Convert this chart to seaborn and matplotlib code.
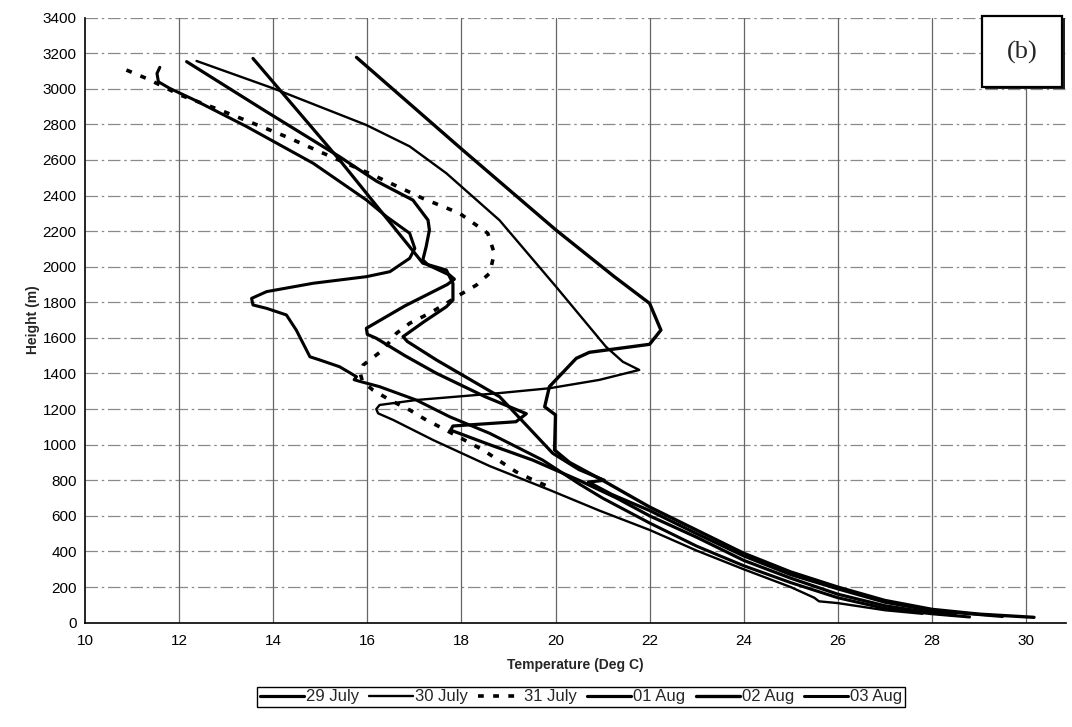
import matplotlib
matplotlib.use("Agg")
import matplotlib.pyplot as plt
import seaborn as sns
import pandas as pd
from matplotlib.patches import Rectangle

sns.set_theme(style="white")
plt.rcParams['font.family'] = ['Liberation Sans', 'DejaVu Sans']

series_names = ["29 July", "30 July", "31 July", "01 Aug", "02 Aug", "03 Aug"]

t_29jul = [12.16, 13.8, 15.41, 16.2, 16.97, 17.29, 17.32, 17.25, 17.18, 17.29, 17.75, 17.85, 17.7, 16.8,
           15.98, 16.0, 16.19, 16.8, 17.47, 18.5, 19.38, 19.16, 17.82, 17.77, 18.6, 19.52, 20.5, 21.3,
           22.0, 23.0, 24.0, 25.0, 26.0, 27.0, 28.0, 28.5]
h_29jul = [3152, 2880, 2618, 2480, 2374, 2262, 2206, 2112, 2038, 2010, 1953, 1930, 1900, 1780,
           1654, 1620, 1598, 1500, 1401, 1270, 1174, 1129, 1105, 1082, 1000, 913, 800, 700,
           600, 480, 350, 250, 160, 95, 55, 42]

t_30jul = [12.37, 14.0, 15.98, 16.9, 17.68, 18.81, 20.01, 21.07, 21.43, 21.78, 20.93, 19.87, 18.81,
           17.04, 16.26, 16.19, 16.23, 16.55, 17.4, 18.6, 19.87, 20.93, 22.0, 23.0, 24.0, 25.0,
           25.5, 25.6, 26.0, 27.0, 27.8]
h_30jul = [3156, 3002, 2796, 2676, 2525, 2261, 1888, 1551, 1466, 1420, 1364, 1317, 1290,
           1251, 1223, 1200, 1176, 1139, 1026, 880, 746, 630, 521, 405, 300, 200,
           140, 120, 110, 70, 50]

t_31jul = [10.88, 11.34, 12.02, 12.87, 13.57, 14.28, 14.99, 16.12, 17.18, 17.96, 18.56, 18.7, 18.6,
           18.32, 17.96, 17.68, 17.32, 16.9, 16.62, 16.33, 15.91, 15.85, 15.9, 16.12, 16.48, 16.9,
           17.25, 17.6, 18.46, 19.16, 19.52, 19.8]
h_31jul = [3105, 3054, 2965, 2880, 2806, 2730, 2646, 2515, 2384, 2300, 2188, 2075, 1963,
           1897, 1841, 1794, 1738, 1682, 1626, 1532, 1447, 1400, 1354, 1307, 1251, 1195,
           1139, 1092, 970, 848, 802, 770]

t_01aug = [13.57, 15.41, 17.18, 17.68, 17.82, 17.82, 17.68, 17.2, 16.76, 16.85, 17.47, 18.81, 19.94,
           20.5, 21.04, 20.7, 21.2, 22.0, 23.0, 24.0, 25.0, 26.0, 27.0, 28.0, 29.5]
h_01aug = [3170, 2600, 2020, 1981, 1906, 1813, 1775, 1690, 1607, 1580, 1476, 1270, 952,
           860, 800, 790, 720, 630, 500, 375, 270, 190, 115, 68, 35]

t_02aug = [15.77, 18.03, 20.01, 21.25, 22.0, 22.24, 22.0, 20.72, 20.44, 19.87, 19.77, 20.0, 19.98,
           20.3, 21.0, 22.0, 23.0, 24.0, 25.0, 26.0, 27.0, 28.0, 29.0, 30.17]
h_02aug = [3176, 2655, 2206, 1944, 1794, 1644, 1564, 1519, 1485, 1326, 1213, 1167, 970,
           900, 800, 650, 520, 390, 285, 200, 125, 75, 48, 30]

t_03aug = [11.59, 11.53, 11.56, 11.8, 12.3, 13.43, 14.85, 15.98, 16.41, 16.9, 17.01, 16.9, 16.48,
           15.98, 14.85, 13.86, 13.54, 13.57, 13.86, 14.28, 14.49, 14.67, 14.78, 14.99, 15.41,
           15.77, 15.72, 15.85, 16.26, 17.04, 17.75, 18.6, 19.73, 20.5, 21.0, 22.0, 23.0, 24.0,
           25.0, 26.0, 27.0, 28.0, 28.8]
h_03aug = [3120, 3086, 3039, 3002, 2940, 2788, 2581, 2375, 2281, 2188, 2103, 2047, 1972,
           1944, 1907, 1860, 1822, 1785, 1766, 1729, 1644, 1551, 1494, 1476, 1438,
           1382, 1365, 1355, 1326, 1251, 1157, 1064, 913, 780, 700, 560, 430, 320,
           225, 140, 80, 50, 32]

x_ticks = list(range(10, 31, 2))
y_ticks = list(range(0, 3401, 200))

all_t = [t_29jul, t_30jul, t_31jul, t_01aug, t_02aug, t_03aug]
all_h = [h_29jul, h_30jul, h_31jul, h_01aug, h_02aug, h_03aug]

frames = []
for name, t, h in zip(series_names, all_t, all_h):
    frames.append(pd.DataFrame({"series": name, "T": t, "H": h, "order": range(len(t))}))
df = pd.concat(frames, ignore_index=True)

styles = {
    "29 July": dict(lw=2.3, ls="-"),
    "30 July": dict(lw=1.7, ls="-"),
    "31 July": dict(lw=2.6, ls=(0, (1.6, 2.6))),
    "01 Aug": dict(lw=2.3, ls="-"),
    "02 Aug": dict(lw=2.4, ls="-"),
    "03 Aug": dict(lw=2.2, ls="-"),
}

fig = plt.figure(figsize=(10.72, 7.27), dpi=100)
ax = fig.add_axes([0.0793, 0.1435, 0.9151, 0.8324])

for name in series_names:
    sub = df[df["series"] == name]
    sns.lineplot(data=sub, x="T", y="H", sort=False, estimator=None, ax=ax,
                 color="black", linewidth=styles[name]["lw"], linestyle=styles[name]["ls"],
                 label=name, solid_joinstyle="round", solid_capstyle="round")

ax.set_xlim(10, 30.85)
ax.set_ylim(0, 3400)
ax.set_xticks(x_ticks)
ax.set_yticks(y_ticks)
ax.tick_params(axis="both", labelsize=11, colors="black", direction="inout", length=6, width=1)
ax.tick_params(axis="x", pad=5)
ax.tick_params(axis="y", pad=3)

for y in y_ticks[1:]:
    ax.axhline(y, color="#8a8a8a", lw=0.9, ls=(0, (10, 3, 2, 3)), zorder=0)
for x in x_ticks[1:]:
    ax.axvline(x, color="#666666", lw=0.9, ls="-", zorder=0)

for side in ["top", "right"]:
    ax.spines[side].set_visible(False)
for side in ["left", "bottom"]:
    ax.spines[side].set_color("black")
    ax.spines[side].set_linewidth(1.2)

ax.set_xlabel("Temperature (Deg C)", fontsize=10, fontweight="bold", labelpad=7)
ax.set_ylabel("Height (m)", fontsize=10, fontweight="bold", labelpad=2)

leg = ax.legend(loc="center", bbox_to_anchor=(0.542, 0.0413), bbox_transform=fig.transFigure,
                ncol=6, fontsize=12, frameon=True, fancybox=False, handlelength=2.65,
                handletextpad=0.12, columnspacing=0.6, borderpad=0.15, borderaxespad=0)
leg.get_frame().set_edgecolor("black")
leg.get_frame().set_linewidth(1.0)
leg.get_frame().set_alpha(1)

# panel label box
fig.patches.append(Rectangle((0.9190, 0.8775), 0.0746, 0.0977, transform=fig.transFigure,
                             facecolor="#222222", edgecolor="none", zorder=5))
fig.patches.append(Rectangle((0.9160, 0.8803), 0.0746, 0.0977, transform=fig.transFigure,
                             facecolor="white", edgecolor="black", lw=1.6, zorder=6))
fig.text(0.9533, 0.9285, "(b)", ha="center", va="center", fontsize=19,
         family=["Liberation Serif", "DejaVu Serif"], zorder=7)

fig.savefig("out.png", dpi=100)
